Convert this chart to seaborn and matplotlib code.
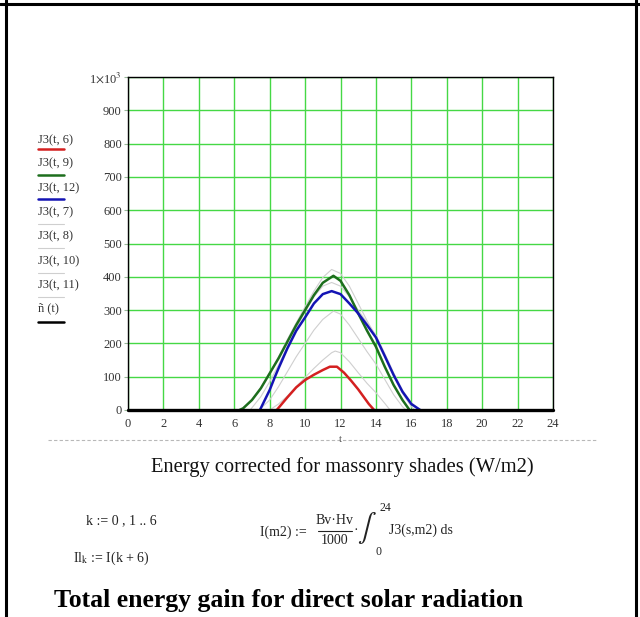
import matplotlib
matplotlib.use("Agg")
import matplotlib.pyplot as plt
from matplotlib.lines import Line2D
import seaborn as sns
import pandas as pd

# Hourly profiles of corrected direct radiation J3(t, m2), W/m2
t_m6 = [8.4, 9.0, 9.5, 10.0, 10.5, 11.0, 11.4, 11.8, 12.2, 12.6, 13.0, 13.3, 13.6, 13.9]
j_m6 = [0, 38, 68, 90, 106, 120, 130, 130, 112, 88, 62, 40, 18, 0]

t_m7 = [8.0, 8.5, 9.0, 9.5, 10.0, 10.5, 11.0, 11.5, 11.7, 12.0, 12.5, 13.0, 13.5, 14.0, 14.5, 14.8]
j_m7 = [0, 18, 42, 70, 98, 125, 150, 172, 177, 172, 145, 112, 80, 52, 20, 0]

t_m8 = [7.4, 8.0, 8.5, 9.0, 9.5, 10.0, 10.5, 11.0, 11.6, 12.0, 12.5, 13.0, 13.5, 14.0, 14.5, 15.0, 15.5, 15.7]
j_m8 = [0, 30, 70, 115, 160, 200, 240, 272, 297, 288, 255, 215, 175, 138, 92, 46, 10, 0]

t_m9 = [6.3, 6.5, 7.0, 7.5, 8.0, 8.5, 9.0, 9.5, 10.0, 10.5, 11.0, 11.6, 12.0, 12.5, 13.0, 13.5, 14.0, 14.5, 15.0, 15.5, 15.9]
j_m9 = [0, 5, 30, 65, 110, 155, 205, 255, 300, 345, 382, 403, 388, 345, 290, 238, 190, 130, 75, 30, 0]

t_m10 = [6.4, 7.0, 7.5, 8.0, 8.5, 9.0, 9.5, 10.0, 10.5, 11.0, 11.5, 12.0, 12.5, 13.0, 13.5, 14.0, 14.5, 15.0, 15.5, 16.0, 16.2]
j_m10 = [0, 30, 68, 112, 160, 212, 262, 310, 357, 398, 422, 410, 372, 320, 268, 222, 165, 105, 50, 10, 0]

t_m11 = [6.9, 7.5, 8.0, 8.5, 9.0, 9.5, 10.0, 10.5, 11.0, 11.5, 12.0, 12.5, 13.0, 13.5, 14.0, 14.5, 15.0, 15.5, 16.0, 16.5]
j_m11 = [0, 40, 85, 135, 190, 245, 295, 340, 372, 383, 372, 340, 300, 262, 225, 170, 112, 60, 22, 0]

t_m12 = [7.45, 8.0, 8.3, 8.5, 9.0, 9.5, 10.0, 10.5, 11.0, 11.5, 12.0, 12.5, 13.0, 13.5, 14.0, 14.5, 15.0, 15.5, 16.0, 16.5]
j_m12 = [0, 60, 100, 125, 185, 238, 278, 320, 348, 357, 348, 320, 290, 255, 218, 162, 105, 55, 18, 0]

# Reference line ñ(t)
t_ref = [0, 24]
j_ref = [0, 0]

x_ticks = list(range(0, 25, 2))
y_ticks = list(range(0, 1001, 100))
y_tick_labels = [str(v) for v in y_ticks[:-1]] + [r"1$\times$10$^{3}$"]

legend_labels = ["J3(t, 6)", "J3(t, 9)", "J3(t, 12)", "J3(t, 7)", "J3(t, 8)",
                 "J3(t, 10)", "J3(t, 11)", "ñ (t)"]

RED = "#d42020"
GREEN = "#1d6e1d"
BLUE = "#1414b4"
GRAY = "#cfcfcf"
BLACK = "#000000"
INK = "#222222"

sns.set_style("white")
plt.rcParams["font.family"] = ["Liberation Serif", "DejaVu Serif"]
plt.rcParams["mathtext.fontset"] = "stix"

fig = plt.figure(figsize=(6.4, 6.17), dpi=100)
W, H = 640.0, 617.0


def fx(px):
    return px / W


def fy(py):
    return 1 - py / H


ax = fig.add_axes([fx(128), fy(410), fx(553) - fx(128), fy(77) - fy(410)])

series = [
    (t_m7, j_m7, GRAY, 0.8),
    (t_m8, j_m8, GRAY, 0.8),
    (t_m10, j_m10, GRAY, 0.8),
    (t_m11, j_m11, GRAY, 0.8),
    (t_m6, j_m6, RED, 1.8),
    (t_m9, j_m9, GREEN, 1.8),
    (t_m12, j_m12, BLUE, 1.8),
]
for tt, jj, col, lw in series:
    df = pd.DataFrame({"t": tt, "J": jj})
    sns.lineplot(data=df, x="t", y="J", ax=ax, color=col, linewidth=lw,
                 sort=False, estimator=None, zorder=3)

sns.lineplot(x=t_ref, y=j_ref, ax=ax, color=BLACK, linewidth=2.4,
             estimator=None, zorder=4, clip_on=False)

ax.set_xlim(0, 24)
ax.set_ylim(0, 1000)
ax.set_xticks(x_ticks)
ax.set_yticks(y_ticks)
ax.set_yticklabels(y_tick_labels)
ax.grid(True, color="#45d845", linewidth=1.0, zorder=0)
ax.set_axisbelow(True)
ax.set_xlabel("")
ax.set_ylabel("")
for side in ["top", "right", "left", "bottom"]:
    ax.spines[side].set_visible(True)
    ax.spines[side].set_color(BLACK)
    ax.spines[side].set_linewidth(1.0)
ax.tick_params(axis="both", which="both", labelsize=9, colors="#333333",
               length=3, width=0.8, pad=1.5, direction="out")
ax.tick_params(axis="y", left=True, color="#9ab89a")
ax.tick_params(axis="x", bottom=False, pad=3)

# Legend drawn in the left margin: label above its line sample
text_y = [140, 163, 188, 212, 236, 261, 285, 308]
line_y = [149, 175, 199, 224, 248, 273, 297, 322]
legend_colors = [RED, GREEN, BLUE, GRAY, GRAY, GRAY, GRAY, BLACK]
legend_widths = [1.8, 1.8, 1.8, 0.8, 0.8, 0.8, 0.8, 1.8]
for lab, ty, ly, col, lw in zip(legend_labels, text_y, line_y, legend_colors, legend_widths):
    fig.text(fx(38), fy(ty), lab, fontsize=9, color="#333333", ha="left", va="center")
    fig.add_artist(Line2D([fx(38), fx(64)], [fy(ly), fy(ly)], color=col, linewidth=lw))

# Dashed separator with the axis variable
fig.add_artist(Line2D([fx(48), fx(598)], [fy(440), fy(440)], color="#b8b8b8",
                      linewidth=0.8, linestyle=(0, (3, 2))))
fig.text(fx(340), fy(440), "t", fontsize=8, color="#555555", ha="center", va="center")

fig.text(fx(342), fy(467), "Energy corrected for massonry shades (W/m2)",
         fontsize=14.8, color="#111111", ha="center", va="center")

# Definitions block
fig.text(fx(86), fy(521), "k := 0 , 1 .. 6", fontsize=10, color=INK,
         ha="left", va="center")
fig.text(fx(73), fy(558), r"Il$_{\mathrm{k}}$ := I(k + 6)", fontsize=10, color=INK,
         ha="left", va="center")
fig.text(fx(260), fy(532), "I(m2) :=", fontsize=10, color=INK, ha="left", va="center")
fig.text(fx(335), fy(521), "Bv·Hv", fontsize=10, color=INK, ha="center", va="center")
fig.add_artist(Line2D([fx(318), fx(352)], [fy(531), fy(531)], color=INK, linewidth=0.8))
fig.text(fx(335), fy(541), "1000", fontsize=10, color=INK, ha="center", va="center")
fig.text(fx(356), fy(531), "·", fontsize=10, color=INK, ha="center", va="center")
fig.text(fx(367), fy(528), r"$\int$", fontsize=20, color=INK, ha="center", va="center")
fig.text(fx(379), fy(508), "24", fontsize=8.5, color=INK, ha="left", va="center")
fig.text(fx(375), fy(552), "0", fontsize=8.5, color=INK, ha="left", va="center")
fig.text(fx(389), fy(530), "J3(s,m2) ds", fontsize=10, color=INK, ha="left", va="center")

fig.text(fx(54), fy(600), "Total energy gain for direct solar radiation",
         fontsize=18.5, fontweight="bold", color="#000000", ha="left", va="center")

# Page frame lines
fig.add_artist(Line2D([0, 1], [fy(4), fy(4)], color=BLACK, linewidth=2.2))
fig.add_artist(Line2D([fx(6), fx(6)], [0, 1], color=BLACK, linewidth=2.2))
fig.add_artist(Line2D([fx(636), fx(636)], [0, 1], color=BLACK, linewidth=2.2))

fig.savefig("out.png", dpi=100, facecolor="white")
